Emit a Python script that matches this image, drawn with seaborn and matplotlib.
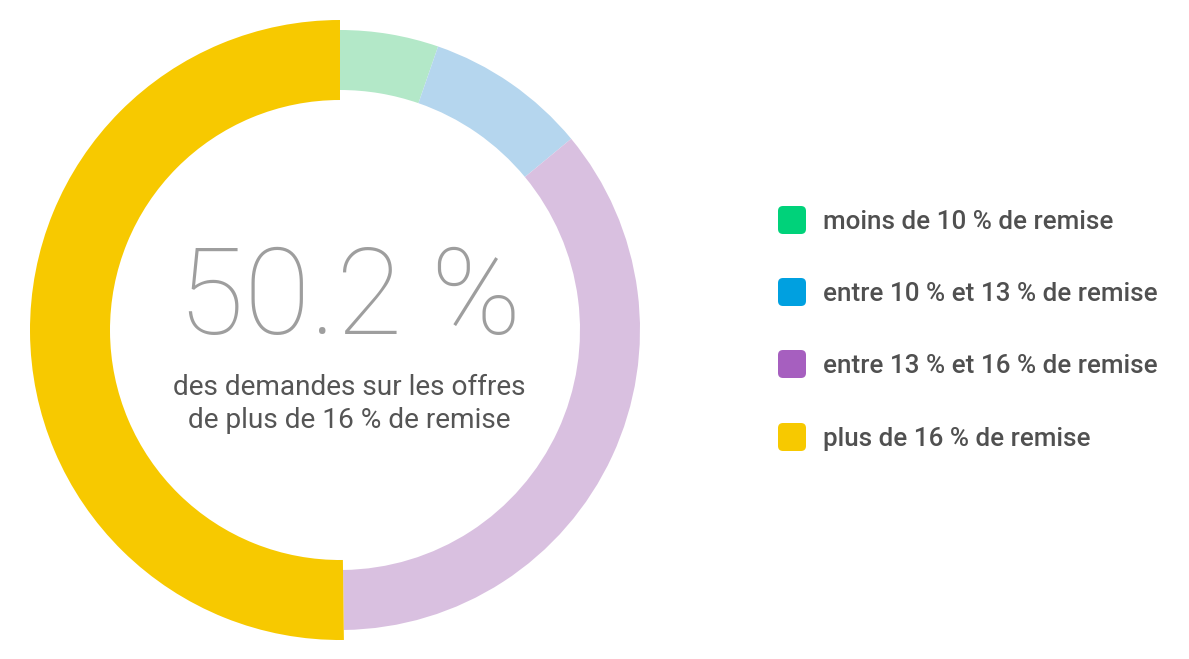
import matplotlib
matplotlib.use("Agg")
import matplotlib.pyplot as plt
from matplotlib.patches import FancyBboxPatch
import seaborn as sns

categories = ["moins de 10 % de remise", "entre 10 % et 13 % de remise",
              "entre 13 % et 16 % de remise", "plus de 16 % de remise"]
values = [5.3, 8.7, 35.8, 50.2]
ring_colors = ["#b3e8c8", "#b5d6ee", "#d9c0e0", "#f7c900"]
legend_colors = ["#00d27a", "#00a0e0", "#a65fbf", "#f7c900"]
headline = "50.2 %"
subtitle = "des demandes sur les offres\nde plus de 16 % de remise"

sns.set_theme(style="white")
plt.rcParams["font.family"] = ["Roboto", "DejaVu Sans"]

W, H = 1189, 659
fig = plt.figure(figsize=(W / 100, H / 100), dpi=100)
ax = fig.add_axes([0, 0, 1, 1])
cx, cy = 340, H - 330
wedges, _ = ax.pie(values, colors=ring_colors, startangle=90, counterclock=False,
                   radius=300, center=(cx, cy),
                   wedgeprops=dict(width=60, linewidth=0))
# highlighted last slice is thicker
wedges[-1].set_radius(310)
wedges[-1].set_width(80)
ax.set_xlim(0, W)
ax.set_ylim(0, H)
ax.set_aspect("equal")
ax.axis("off")

ax.text(350, H - 301, headline, ha="center", va="center", fontsize=87,
        fontweight=100, color="#9e9e9e")
ax.text(349, H - 404, subtitle, ha="center", va="center", fontsize=20.2,
        color="#555555", linespacing=1.3)

y0 = [220, 292, 364, 437]
for i, (lab, col) in enumerate(zip(categories, legend_colors)):
    yy = H - y0[i]
    box = FancyBboxPatch((778 + 5, yy - 14 + 5), 28 - 10, 28 - 10,
                         boxstyle="round,pad=5", fc=col, ec="none")
    ax.add_patch(box)
    ax.text(823, yy - 2, lab, ha="left", va="center", fontsize=18.7,
            fontweight="medium", color="#505050")

fig.savefig("out.png", dpi=100, facecolor="white")
